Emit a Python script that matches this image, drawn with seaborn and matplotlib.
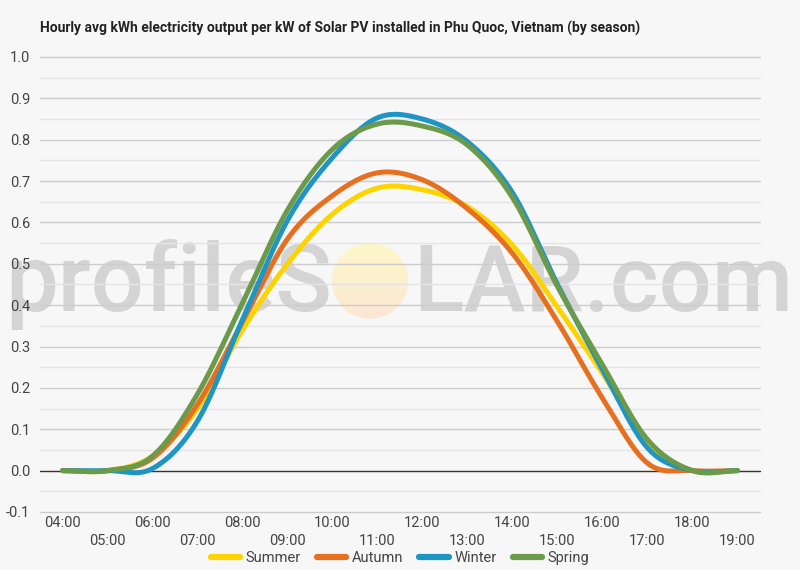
import numpy as np
import pandas as pd
import matplotlib
matplotlib.use('Agg')
import matplotlib.pyplot as plt
import seaborn as sns
from matplotlib.lines import Line2D
from matplotlib.patches import Ellipse

# ---------------- data ----------------
hours = ['04:00', '05:00', '06:00', '07:00', '08:00', '09:00', '10:00', '11:00',
         '12:00', '13:00', '14:00', '15:00', '16:00', '17:00', '18:00', '19:00']
seasons = ['Summer', 'Autumn', 'Winter', 'Spring']
summer = [0.0, 0.0, 0.035, 0.15, 0.34, 0.50, 0.62, 0.683, 0.679, 0.638, 0.545, 0.395, 0.235, 0.067, 0.0, 0.0]
autumn = [0.0, 0.0, 0.030, 0.16, 0.36, 0.56, 0.665, 0.720, 0.703, 0.633, 0.525, 0.36, 0.175, 0.018, 0.0, 0.0]
winter = [0.0, 0.0, 0.005, 0.12, 0.365, 0.605, 0.757, 0.853, 0.850, 0.795, 0.672, 0.45, 0.244, 0.055, 0.0, 0.0]
spring = [0.0, 0.0, 0.035, 0.185, 0.405, 0.63, 0.777, 0.838, 0.833, 0.787, 0.66, 0.445, 0.256, 0.075, 0.0, 0.0]
values = {'Summer': summer, 'Autumn': autumn, 'Winter': winter, 'Spring': spring}
colors = {'Summer': '#fdd400', 'Autumn': '#e6701f', 'Winter': '#1e95c5', 'Spring': '#6b9a4b'}
title = 'Hourly avg kWh electricity output per kW of Solar PV installed in Phu Quoc, Vietnam (by season)'


def smooth(y, n=40):
    """Cubic Hermite (Catmull-Rom) curve through the hourly points, for drawing."""
    y = np.asarray(y, float)
    m = np.zeros_like(y)
    m[1:-1] = (y[2:] - y[:-2]) / 2
    m[0] = y[1] - y[0]
    m[-1] = y[-1] - y[-2]
    xs, ys = [], []
    t = np.linspace(0, 1, n, endpoint=False)
    for i in range(len(y) - 1):
        h00 = 2 * t**3 - 3 * t**2 + 1
        h10 = t**3 - 2 * t**2 + t
        h01 = -2 * t**3 + 3 * t**2
        h11 = t**3 - t**2
        xs.append(i + t)
        ys.append(h00 * y[i] + h10 * m[i] + h01 * y[i + 1] + h11 * m[i + 1])
    xs.append(np.array([len(y) - 1.0]))
    ys.append(np.array([y[-1]]))
    return np.concatenate(xs), np.concatenate(ys)


rows = []
for s in seasons:
    xs, ys = smooth(values[s])
    rows.append(pd.DataFrame({'x': xs, 'y': ys, 'season': s}))
df = pd.concat(rows, ignore_index=True)

# ---------------- figure ----------------
sns.set_theme(style='white')
plt.rcParams['font.family'] = ['Roboto', 'DejaVu Sans']
bg = '#f7f7f7'
fig = plt.figure(figsize=(8, 5.7), dpi=100, facecolor=bg)
ax = fig.add_axes([0.05, 0.1018, 0.9, 0.7982])
ax.set_facecolor(bg)

# watermark
wm_col = '#d4d4d4'
t1 = ax.text(5 / 800, 1 - 311 / 570, 'profileS', transform=fig.transFigure, ha='left',
             va='baseline', fontsize=69, fontweight='medium', color=wm_col, zorder=0.3, clip_on=False)
t2 = ax.text(413 / 800, 1 - 311 / 570, 'LAR.com', transform=fig.transFigure, ha='left',
             va='baseline', fontsize=69, fontweight='medium', color=wm_col, zorder=0.3, clip_on=False)
cx, cy = (370 - 40) / 45 - 0.5, (471 - 281) / 414
rx, ry = 38 / 45, 38 / 414
top_c = np.array([0.992, 0.972, 0.785])
bot_c = np.array([0.984, 0.905, 0.835])
g = np.linspace(0, 1, 64)[:, None]
img = (1 - g) * top_c + g * bot_c
img = np.repeat(img[:, None, :], 2, axis=1)
circ = Ellipse((cx, cy), 2 * rx, 2 * ry, transform=ax.transData, facecolor='none', edgecolor='none')
ax.add_patch(circ)
im = ax.imshow(img, extent=[cx - rx, cx + rx, cy - ry, cy + ry], aspect='auto', zorder=0.4,
               origin='upper', interpolation='bilinear')
im.set_clip_path(circ)

# gridlines
for k in range(-2, 21):
    v = k * 0.05
    if k == 0:
        c = '#333333'
    elif k % 2 == 0:
        c = '#cccccc'
    else:
        c = '#e4e4e4'
    ax.axhline(v, color=c, lw=1.0, zorder=0.8 if k else 1.5, clip_on=False)

sns.lineplot(data=df, x='x', y='y', hue='season', hue_order=seasons, palette=colors,
             estimator=None, sort=False, linewidth=3.6, ax=ax, legend=False, zorder=2)
for ln in ax.get_lines():
    ln.set_solid_capstyle('round')

ax.set_xlim(-0.5, 15.5)
ax.set_ylim(-0.1, 1.0)
ax.set_xticks(range(len(hours)))
ax.set_xticklabels([h if i % 2 == 0 else '\n' + h for i, h in enumerate(hours)])
for lbl in ax.get_xticklabels():
    lbl.set_linespacing(1.35)
yt = [round(-0.1 + 0.1 * i, 1) for i in range(12)]
ax.set_yticks(yt)
ax.set_yticklabels([f'{v:.1f}' for v in yt])
ax.tick_params(axis='x', length=0, pad=3, labelsize=10.5, colors='#444444')
ax.tick_params(axis='y', length=0, pad=7, labelsize=10.5, colors='#444444')
ax.set_xlabel('')
ax.set_ylabel('')
for sp in ax.spines.values():
    sp.set_visible(False)

fig.text(0.05, 1 - 28 / 570, title, fontweight='bold', fontsize=10, va='center',
         ha='left', color='#222222')

handles = [Line2D([0], [0], color=colors[s], lw=4.5) for s in seasons]
leg = fig.legend(handles, seasons, loc='center', bbox_to_anchor=(0.5, 1 - 558 / 570), ncol=4,
                 frameon=False, handlelength=2.0, handletextpad=0.4, columnspacing=1.1,
                 fontsize=10.5)
for t in leg.get_texts():
    t.set_color('#444444')

# fit watermark widths to the reference
fig.canvas.draw()
r = fig.canvas.get_renderer()
for t, w in [(t1, 332 - 5), (t2, 793 - 413)]:
    bb = t.get_window_extent(r)
    t.set_fontsize(t.get_fontsize() * w / bb.width)

fig.savefig('out.png', dpi=100, facecolor=bg)
